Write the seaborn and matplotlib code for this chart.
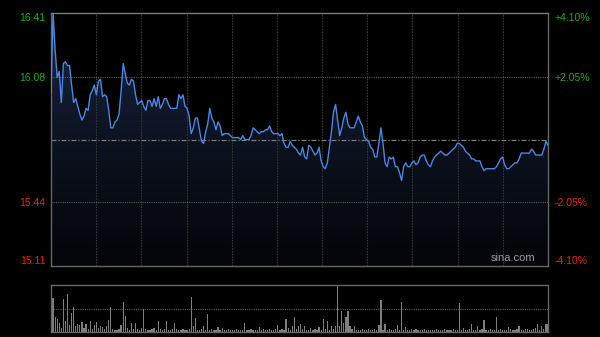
import numpy as np
import pandas as pd
import matplotlib
matplotlib.use("Agg")
import matplotlib.pyplot as plt
import seaborn as sns
from matplotlib.colors import LinearSegmentedColormap

# ---------------- data ----------------
prev_close = 15.76
price_ticks = [15.11, 15.44, 16.08, 16.41]
price_tick_labels = ["15.11", "15.44", "16.08", "16.41"]
pct_tick_labels = ["-4.10%", "-2.05%", "+2.05%", "+4.10%"]
tick_colors = ["#e8231a", "#e8231a", "#1fa81f", "#1fa81f"]

prices = [
    16.00, 16.41, 16.22, 16.08, 16.11, 15.95, 16.15, 16.16, 16.14, 16.14,
    16.04, 15.95, 15.97, 15.93, 15.89, 15.86, 15.88, 15.92, 15.91, 15.99,
    16.01, 16.04, 15.99, 16.06, 16.07, 15.98, 15.99, 15.98, 15.91, 15.82,
    15.82, 15.85, 15.86, 15.89, 16.01, 16.15, 16.10, 16.05, 16.04, 16.07,
    16.06, 15.99, 15.94, 15.95, 15.96, 15.93, 15.91, 15.96, 15.96, 15.93,
    15.97, 15.93, 15.98, 15.92, 15.94, 15.97, 15.97, 15.94, 15.92, 15.92,
    15.92, 15.92, 15.99, 15.97, 15.99, 15.93, 15.92, 15.88, 15.79, 15.82,
    15.87, 15.87, 15.81, 15.75, 15.74, 15.80, 15.84, 15.92, 15.87, 15.85,
    15.81, 15.85, 15.83, 15.78, 15.79, 15.79, 15.79, 15.78, 15.77, 15.77,
    15.77, 15.77, 15.76, 15.78, 15.76, 15.76, 15.76, 15.78, 15.82, 15.81,
    15.80, 15.79, 15.80, 15.80, 15.81, 15.81, 15.83, 15.80, 15.79, 15.79,
    15.79, 15.78, 15.79, 15.74, 15.72, 15.72, 15.75, 15.73, 15.72, 15.71,
    15.69, 15.68, 15.72, 15.67, 15.66, 15.73, 15.72, 15.70, 15.68, 15.69,
    15.72, 15.65, 15.62, 15.61, 15.64, 15.72, 15.80, 15.90, 15.94, 15.86,
    15.78, 15.82, 15.87, 15.90, 15.84, 15.82, 15.82, 15.82, 15.85, 15.88,
    15.85, 15.83, 15.77, 15.76, 15.75, 15.72, 15.71, 15.67, 15.67, 15.74,
    15.82, 15.74, 15.64, 15.62, 15.67, 15.66, 15.67, 15.62, 15.62, 15.59,
    15.55, 15.62, 15.64, 15.62, 15.62, 15.64, 15.65, 15.63, 15.64, 15.67,
    15.68, 15.68, 15.65, 15.63, 15.62, 15.65, 15.67, 15.68, 15.69, 15.70,
    15.69, 15.68, 15.68, 15.69, 15.70, 15.71, 15.72, 15.74, 15.74, 15.73,
    15.72, 15.70, 15.69, 15.68, 15.66, 15.66, 15.65, 15.65, 15.65, 15.62,
    15.60, 15.61, 15.61, 15.61, 15.61, 15.61, 15.62, 15.64, 15.66, 15.67,
    15.63, 15.61, 15.61, 15.62, 15.63, 15.64, 15.64, 15.66, 15.69, 15.69,
    15.69, 15.69, 15.69, 15.71, 15.70, 15.68, 15.68, 15.68, 15.68, 15.71,
    15.75, 15.73,
]

volume = [
    820, 720, 310, 270, 190, 80, 700, 230, 810, 150,
    400, 530, 120, 180, 150, 220, 90, 180, 70, 240,
    60, 150, 210, 80, 120, 100, 60, 120, 260, 530,
    60, 40, 50, 70, 150, 630, 330, 80, 50, 200,
    70, 190, 60, 50, 90, 490, 60, 40, 50, 60,
    80, 40, 230, 60, 50, 70, 230, 40, 50, 60,
    200, 70, 40, 50, 60, 40, 50, 60, 750, 120,
    300, 50, 40, 60, 120, 50, 380, 40, 60, 50,
    40, 100, 50, 80, 40, 50, 60, 40, 50, 40,
    60, 40, 50, 40, 200, 50, 40, 60, 50, 40,
    50, 100, 40, 60, 50, 40, 60, 50, 40, 60,
    140, 50, 60, 40, 280, 90, 50, 120, 310, 60,
    120, 180, 60, 120, 50, 40, 90, 50, 60, 40,
    110, 50, 270, 60, 240, 50, 120, 60, 130, 1000,
    120, 440, 190, 320, 440, 120, 60, 130, 50, 40,
    50, 60, 40, 50, 70, 40, 50, 60, 40, 150,
    680, 50, 170, 40, 60, 50, 40, 60, 150, 50,
    630, 40, 110, 50, 40, 60, 40, 60, 50, 40,
    50, 60, 40, 50, 40, 40, 50, 60, 40, 50,
    40, 60, 50, 40, 40, 60, 50, 40, 620, 50,
    85, 40, 50, 60, 180, 50, 40, 120, 50, 60,
    260, 40, 50, 60, 40, 50, 310, 40, 60, 50,
    40, 50, 100, 60, 40, 50, 60, 120, 50, 40,
    60, 60, 50, 40, 60, 85, 180, 50, 130, 60,
    180, 180,
]

minutes = np.arange(len(prices))
df = pd.DataFrame({"minute": minutes, "price": prices, "volume": volume})

# ---------------- style ----------------
sns.set_theme(style="dark")
plt.rcParams["font.family"] = ["Liberation Sans", "DejaVu Sans"]

fig = plt.figure(figsize=(6, 3.37), dpi=100, facecolor="black")
ax = fig.add_axes([0.085, 0.2107, 0.8283, 0.7507])
axv = fig.add_axes([0.085, 0.0148, 0.8283, 0.1395])

lo, hi = price_ticks[0], price_ticks[-1]
xmax = minutes[-1]

# ---------------- price panel ----------------
ax.set_facecolor("black")
ax.set_xlim(0, xmax)
ax.set_ylim(lo, hi)

# gradient fill under the line
poly = ax.fill_between(df["minute"], df["price"], lo, facecolor="none", edgecolor="none")
cmap = LinearSegmentedColormap.from_list("fill", ["#040508", "#0c1220", "#1a2946"])
grad = np.linspace(0, 1, 256).reshape(-1, 1)
im = ax.imshow(grad, cmap=cmap, aspect="auto", origin="lower",
               extent=[0, xmax, lo, hi], zorder=1)
im.set_clip_path(poly.get_paths()[0], transform=ax.transData)

# grid
for xv in np.linspace(0, xmax, 12)[1:-1]:
    ax.axvline(xv, color="#363636", lw=0.8, ls=(0, (1.5, 1)), zorder=2)
for yv in price_ticks[1:-1]:
    ax.axhline(yv, color="#5a5a5a", lw=0.8, ls=(0, (1, 1)), zorder=2)
ax.axhline(prev_close, color="#7a7a7a", lw=0.9, ls=(0, (4, 1.5, 1, 1.5)), zorder=2)

sns.lineplot(data=df, x="minute", y="price", ax=ax, color="#4d86dc",
             linewidth=1.0, zorder=3)

ax.set_xticks([])
ax.set_yticks(price_ticks)
ax.set_yticklabels(price_tick_labels)
ax.tick_params(axis="y", length=0, pad=4, labelsize=7.5)
for lab, c in zip(ax.get_yticklabels(), tick_colors):
    lab.set_color(c)
ax.get_yticklabels()[0].set_va("bottom")
ax.get_yticklabels()[-1].set_va("top")
ax.set_xlabel("")
ax.set_ylabel("")
ax.grid(False)
for s in ax.spines.values():
    s.set_visible(True)
    s.set_color("#666666")
    s.set_linewidth(1.0)
ax.spines["top"].set_color("#7a7a7a")

axr = ax.twinx()
axr.set_ylim(lo, hi)
axr.set_yticks(price_ticks)
axr.set_yticklabels(pct_tick_labels)
axr.tick_params(axis="y", length=0, pad=5, labelsize=7.5)
for lab, c in zip(axr.get_yticklabels(), tick_colors):
    lab.set_color(c)
axr.get_yticklabels()[0].set_va("bottom")
axr.get_yticklabels()[-1].set_va("top")
axr.grid(False)
for s in axr.spines.values():
    s.set_visible(False)

ax.text(0.975, 0.012, "sina.com", transform=ax.transAxes, ha="right", va="bottom",
        color="#9a9a9a", fontsize=8, zorder=5)

# ---------------- volume panel ----------------
axv.set_facecolor("black")
sns.barplot(data=df, x="minute", y="volume", native_scale=True, ax=axv,
            color="#7e7e7e", width=0.6, saturation=1, edgecolor="none")
axv.set_xlim(0, xmax)
vmax = max(volume)
axv.set_ylim(0, vmax)
axv.axhline(vmax / 2, color="#5a5a5a", lw=0.8, ls=(0, (1, 1)), zorder=0)
axv.set_xticks([])
axv.set_yticks([])
axv.set_xlabel("")
axv.set_ylabel("")
axv.grid(False)
for s in axv.spines.values():
    s.set_visible(True)
    s.set_color("#666666")
    s.set_linewidth(1.0)
axv.spines["top"].set_linestyle((0, (1, 1)))

fig.savefig("out.png", dpi=100, facecolor="black")
